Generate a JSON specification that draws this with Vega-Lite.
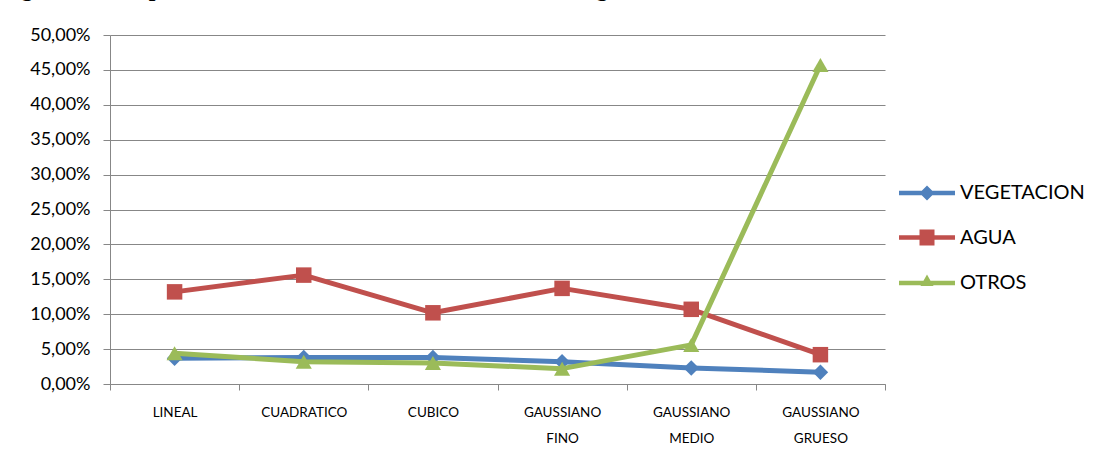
{
  "$schema": "https://vega.github.io/schema/vega-lite/v6.json",
  "width": 775,
  "height": 349,
  "autosize": {"type": "none"},
  "padding": {"left": 110, "top": 35, "right": 217, "bottom": 77},
  "background": "white",
  "config": {"view": {"stroke": null}, "font": "Lato"},
  "title": {
    "text": "Figura 8. Comparacion del error de clasificacion de la imagen OLIMAR",
    "anchor": "start",
    "frame": "group",
    "dx": -110,
    "dy": 8,
    "offset": 14,
    "baseline": "alphabetic",
    "font": "Liberation Serif",
    "fontSize": 24,
    "fontWeight": "bold",
    "color": "#000000"
  },
  "data": {
    "values": [
      {"serie": "VEGETACION", "metodo": "LINEAL", "error": 0.037},
      {"serie": "VEGETACION", "metodo": "CUADRATICO", "error": 0.038},
      {"serie": "VEGETACION", "metodo": "CUBICO", "error": 0.038},
      {"serie": "VEGETACION", "metodo": "GAUSSIANO FINO", "error": 0.032},
      {"serie": "VEGETACION", "metodo": "GAUSSIANO MEDIO", "error": 0.023},
      {"serie": "VEGETACION", "metodo": "GAUSSIANO GRUESO", "error": 0.017},
      {"serie": "AGUA", "metodo": "LINEAL", "error": 0.132},
      {"serie": "AGUA", "metodo": "CUADRATICO", "error": 0.156},
      {"serie": "AGUA", "metodo": "CUBICO", "error": 0.102},
      {"serie": "AGUA", "metodo": "GAUSSIANO FINO", "error": 0.137},
      {"serie": "AGUA", "metodo": "GAUSSIANO MEDIO", "error": 0.107},
      {"serie": "AGUA", "metodo": "GAUSSIANO GRUESO", "error": 0.042},
      {"serie": "OTROS", "metodo": "LINEAL", "error": 0.044},
      {"serie": "OTROS", "metodo": "CUADRATICO", "error": 0.032},
      {"serie": "OTROS", "metodo": "CUBICO", "error": 0.030},
      {"serie": "OTROS", "metodo": "GAUSSIANO FINO", "error": 0.022},
      {"serie": "OTROS", "metodo": "GAUSSIANO MEDIO", "error": 0.056},
      {"serie": "OTROS", "metodo": "GAUSSIANO GRUESO", "error": 0.457}
    ]
  },
  "encoding": {
    "x": {
      "field": "metodo",
      "type": "nominal",
      "sort": ["LINEAL", "CUADRATICO", "CUBICO", "GAUSSIANO FINO", "GAUSSIANO MEDIO", "GAUSSIANO GRUESO"],
      "scale": {"type": "band", "paddingInner": 0, "paddingOuter": 0},
      "axis": {
        "title": null,
        "labelAngle": 0,
        "tickBand": "extent",
        "tickSize": 6,
        "domainColor": "#878787",
        "tickColor": "#878787",
        "labelFont": "Lato",
        "labelFontSize": 13.5,
        "labelColor": "#000000",
        "labelPadding": 15,
        "labelLineHeight": 26,
        "labelBaseline": "top",
        "labelExpr": "split(datum.label, ' ')",
        "grid": false
      }
    },
    "y": {
      "field": "error",
      "type": "quantitative",
      "scale": {"domain": [0, 0.5]},
      "axis": {
        "title": null,
        "values": [0, 0.05, 0.1, 0.15, 0.2, 0.25, 0.3, 0.35, 0.4, 0.45, 0.5],
        "labelExpr": "replace(format(datum.value, '.2%'), '.', ',')",
        "grid": true,
        "gridColor": "#878787",
        "domainColor": "#878787",
        "tickColor": "#878787",
        "tickSize": 7,
        "labelPadding": 13,
        "labelFont": "Lato",
        "labelFontSize": 18,
        "labelColor": "#000000"
      }
    }
  },
  "layer": [
    {
      "transform": [{"filter": "datum.serie === 'VEGETACION'"}],
      "mark": {"type": "line", "strokeWidth": 5, "strokeJoin": "round", "color": "#4F81BD"}
    },
    {
      "transform": [{"filter": "datum.serie === 'VEGETACION'"}],
      "mark": {"type": "point", "shape": "diamond", "filled": true, "size": 240, "opacity": 1, "color": "#4F81BD"}
    },
    {
      "transform": [{"filter": "datum.serie === 'AGUA'"}],
      "mark": {"type": "line", "strokeWidth": 5, "strokeJoin": "round", "color": "#C0504D"}
    },
    {
      "transform": [{"filter": "datum.serie === 'AGUA'"}],
      "mark": {"type": "point", "shape": "square", "filled": true, "size": 240, "opacity": 1, "color": "#C0504D"}
    },
    {
      "transform": [{"filter": "datum.serie === 'OTROS'"}],
      "mark": {"type": "line", "strokeWidth": 5, "strokeJoin": "round", "color": "#9BBB59"}
    },
    {
      "transform": [{"filter": "datum.serie === 'OTROS'"}],
      "mark": {"type": "point", "shape": "triangle-up", "filled": true, "size": 260, "opacity": 1, "color": "#9BBB59"}
    },
    {
      "mark": {"type": "point", "filled": true, "opacity": 0},
      "encoding": {
        "color": {
          "field": "serie",
          "type": "nominal",
          "scale": {"domain": ["VEGETACION", "AGUA", "OTROS"], "range": ["#4F81BD", "#C0504D", "#9BBB59"]},
          "legend": {
            "title": null,
            "orient": "none",
            "legendX": 806,
            "legendY": 147,
            "padding": 0,
            "symbolSize": 400,
            "symbolOpacity": 1,
            "labelFont": "Lato",
            "labelFontSize": 20,
            "labelOffset": 22,
            "rowPadding": 22.5,
            "labelColor": "#000000"
          }
        },
        "shape": {
          "field": "serie",
          "type": "nominal",
          "scale": {
            "domain": ["VEGETACION", "AGUA", "OTROS"],
            "range": [
              "M-2.8,-0.22H2.8V0.22H-2.8ZM0,-0.75L0.75,0L0,0.75L-0.75,0Z",
              "M-2.8,-0.22H2.8V0.22H-2.8ZM-0.75,-0.8H0.75V0.8H-0.75Z",
              "M-2.8,-0.22H2.8V0.22H-2.8ZM0,-0.85L0.65,0.3L-0.65,0.3Z"
            ]
          },
          "legend": {
            "title": null,
            "orient": "none",
            "legendX": 806,
            "legendY": 147,
            "padding": 0,
            "symbolSize": 400,
            "symbolOpacity": 1,
            "labelFont": "Lato",
            "labelFontSize": 20,
            "labelOffset": 22,
            "rowPadding": 22.5,
            "labelColor": "#000000"
          }
        }
      }
    }
  ]
}
